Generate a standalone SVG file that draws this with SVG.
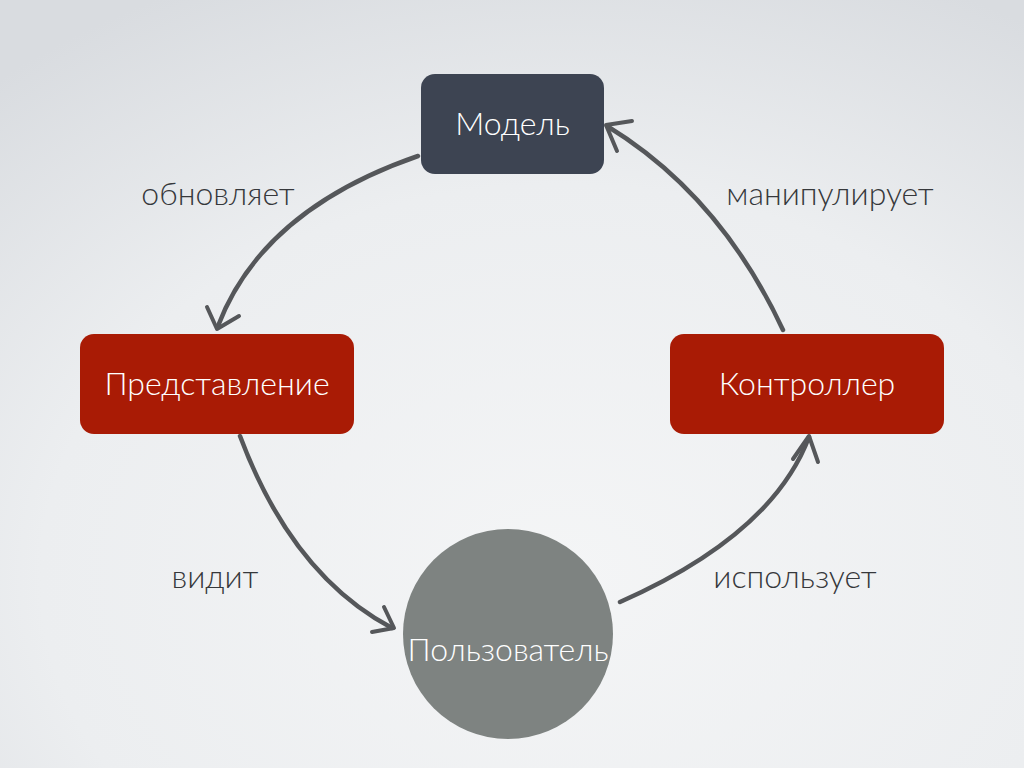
<svg xmlns="http://www.w3.org/2000/svg" width="1024" height="768" viewBox="0 0 1024 768">
<defs>
<radialGradient id="bg" cx="0.55" cy="0.75" r="0.85">
<stop offset="0" stop-color="#f4f5f6"/>
<stop offset="0.6" stop-color="#eceef0"/>
<stop offset="1" stop-color="#d9dce0"/>
</radialGradient>
<style>
.lbl{font-family:Lato,"Liberation Sans",sans-serif;font-weight:300;font-size:32px;fill:#36383b;text-anchor:middle}
.ntx{font-family:Lato,"Liberation Sans",sans-serif;font-weight:300;font-size:32px;fill:#ffffff;text-anchor:middle}
.red{fill:#a91b05}
.arc{fill:none;stroke:#55575a;stroke-width:4.5;stroke-linecap:round}
.head{fill:none;stroke:#55575a;stroke-width:4;stroke-linecap:round;stroke-linejoin:round}
</style>
</defs>
<rect width="1024" height="768" fill="url(#bg)"/>
<g id="connectors">
<path class="arc" d="M418,156 Q262,210 218,326"/>
<path class="head" d="M207,307 L217,329 L239,316"/>
<path class="arc" d="M783,330 Q720,195 607,126"/>
<path class="head" d="M632,121 L606,125 L617,151"/>
<path class="arc" d="M240,436 Q292,575 392,628"/>
<path class="head" d="M384,607 L394,628 L372,632"/>
<path class="arc" d="M620,602 Q772,535 809,437"/>
<path class="head" d="M793,459 L809,436 L818,462"/>
</g>
<g id="label-obnovlyaet"><text class="lbl" x="218" y="205">обновляет</text></g>
<g id="label-manipuliruet"><text class="lbl" x="830" y="205">манипулирует</text></g>
<g id="label-vidit"><text class="lbl" x="215" y="588">видит</text></g>
<g id="label-ispolzuet"><text class="lbl" x="795" y="588">использует</text></g>
<g id="node-model">
<rect x="421" y="74" width="183" height="100" rx="14" fill="#3d4452"/>
<text class="ntx" x="512.5" y="135">Модель</text>
</g>
<g id="node-view">
<rect class="red" x="80" y="334" width="274" height="100" rx="14"/>
<text class="ntx" x="217" y="395">Представление</text>
</g>
<g id="node-controller">
<rect class="red" x="670" y="334" width="274" height="100" rx="14"/>
<text class="ntx" x="807" y="395">Контроллер</text>
</g>
<g id="node-user">
<circle cx="508" cy="634" r="105" fill="#7e8381"/>
<text class="ntx" x="508" y="661">Пользователь</text>
</g>
</svg>
